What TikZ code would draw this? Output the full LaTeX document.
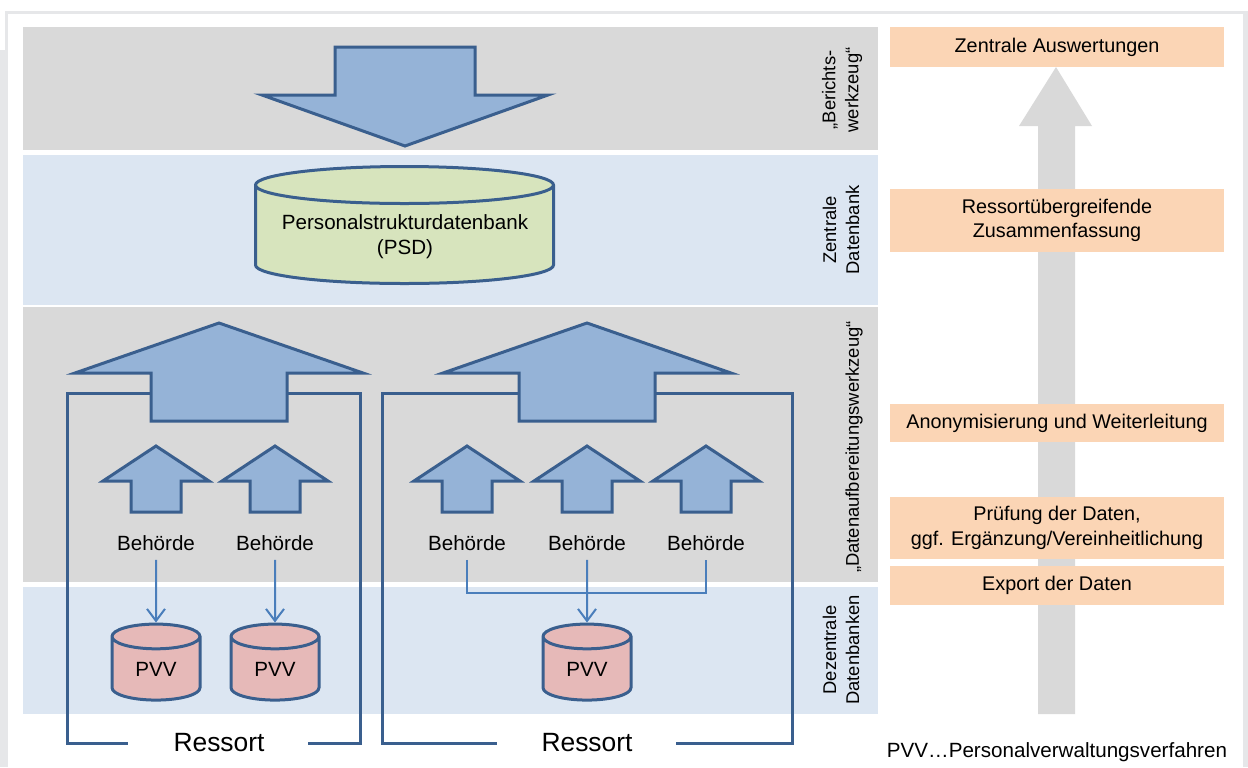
\documentclass[tikz,border=0pt]{standalone}
\usepackage{fontspec}
\setmainfont{Liberation Sans}
\usetikzlibrary{shapes.geometric,arrows.meta}

\definecolor{framegray}{HTML}{E6E7E9}
\definecolor{bandgray}{HTML}{D9D9D9}
\definecolor{bandblue}{HTML}{DCE6F2}
\definecolor{stepfill}{HTML}{FBD5B5}
\definecolor{arrowfill}{HTML}{95B3D7}
\definecolor{arrowline}{HTML}{3A5F8E}
\definecolor{linkblue}{HTML}{4A7EBB}
\definecolor{psdfill}{HTML}{D7E4BD}
\definecolor{pvvfill}{HTML}{E6B9B8}

\begin{document}
\begin{tikzpicture}[
    x=0.5pt, y=-0.5pt,
    font=\fontsize{10.3}{12.4}\selectfont,
    stepbox/.style={
        fill=stepfill,
        minimum width=167pt,
        align=center,
        inner sep=0pt,
        font=\fontsize{9.9}{12.2}\selectfont
    },
    layer/.style={
        rotate=90,
        align=center,
        font=\fontsize{9.2}{11.5}\selectfont
    },
    blockarrow/.style={
        fill=arrowfill,
        draw=arrowline,
        line width=1.5pt
    },
    bracket/.style={
        draw=arrowline,
        line width=1.5pt
    },
    link/.style={
        draw=linkblue,
        line width=1pt
    },
    db/.style={
        cylinder,
        shape border rotate=90,
        draw=arrowline,
        line width=1.5pt,
        inner sep=0pt,
        align=center
    },
    office/.style={inner sep=4.5pt}
]
\useasboundingbox (0,0) rectangle (1248,767);

\fill[framegray] (5,11) rectangle (1248,14);
\fill[framegray] (5,11) rectangle (8,50);
\fill[framegray] (0,50) rectangle (8,767);
\fill[framegray] (1243,11) rectangle (1248,767);

\fill[bandgray] (23,27) rectangle (878,150);
\fill[bandblue] (23,155) rectangle (878,305);
\fill[bandgray] (23,307) rectangle (878,582);
\fill[bandblue] (23,587) rectangle (878,714);

\node[layer] (lberichte) at (842,90) {„Berichts-\\werkzeug“};
\node[layer] (lzentral) at (841,230) {Zentrale\\Datenbank};
\node[layer] (laufber) at (854,447) {„Datenaufbereitungswerkzeug“};
\node[layer] (ldezentral) at (841,650) {Dezentrale\\Datenbanken};

\fill[bandgray] (1038,714) -- (1038,126) -- (1019,126) -- (1056,67)
    -- (1092,126) -- (1075,126) -- (1075,714) -- cycle;

\node[stepbox, minimum height=20pt] (auswertung) at (1057,47) {Zentrale Auswertungen};
\node[stepbox, minimum height=31.5pt] (zusammen) at (1057,220.5)
    {Ressortübergreifende\\Zusammenfassung};
\node[stepbox, minimum height=19pt] (anonym) at (1057,423)
    {Anonymisierung und Weiterleitung};
\node[stepbox, minimum height=31pt] (pruefung) at (1057,528)
    {Prüfung der Daten,\\ggf. Ergänzung/Vereinheitlichung};
\node[stepbox, minimum height=19.5pt] (export) at (1057,585.5) {Export der Daten};

\node (legende) at (1057,752) {PVV…Personalverwaltungsverfahren};

\draw[blockarrow] (335,47) -- (475,47) -- (475,95) -- (548,95) -- (405,146)
    -- (262,95) -- (335,95) -- cycle;

\draw[bracket, fill=psdfill] (255.5,185) -- (255.5,265)
    arc[start angle=180, end angle=360, x radius=74.5pt, y radius=9.25pt]
    -- (553.5,185)
    arc[start angle=0, end angle=180, x radius=74.5pt, y radius=9.25pt] -- cycle;
\draw[bracket] (255.5,185)
    arc[start angle=180, end angle=360, x radius=74.5pt, y radius=9.25pt];
\node[align=center] (psd) at (405,237) {Personalstrukturdatenbank\\(PSD)};

\draw[bracket] (152,393) -- (67,393) -- (67,743) -- (128,743);
\draw[bracket] (308,743) -- (360,743) -- (360,393) -- (287,393);
\draw[bracket] (518,393) -- (382,393) -- (382,743) -- (497,743);
\draw[bracket] (676,743) -- (792,743) -- (792,393) -- (655,393);

\node[font=\fontsize{13.2}{15}\selectfont] (ressort1) at (219,743) {Ressort};
\node[font=\fontsize{13.2}{15}\selectfont] (ressort2) at (587,743) {Ressort};

\foreach \c in {219,587}
    \draw[blockarrow] (\c,323) -- (\c+144,373) -- (\c+68,373) -- (\c+68,421)
        -- (\c-68,421) -- (\c-68,373) -- (\c-144,373) -- cycle;

\foreach \c in {156,275,467,587,706}
    \draw[blockarrow] (\c,446) -- (\c+53,481) -- (\c+25,481) -- (\c+25,512)
        -- (\c-25,512) -- (\c-25,481) -- (\c-53,481) -- cycle;

\node[office] (beh1) at (156,543) {Behörde};
\node[office] (beh2) at (275,543) {Behörde};
\node[office] (beh3) at (467,543) {Behörde};
\node[office] (beh4) at (587,543) {Behörde};
\node[office] (beh5) at (706,543) {Behörde};

\node[db, fill=pvvfill, minimum width=44pt, minimum height=38pt, aspect=0.6]
    (pvv1) at (156,669) {PVV};
\node[db, fill=pvvfill, minimum width=44pt, minimum height=38pt, aspect=0.6]
    (pvv2) at (275,669) {PVV};
\node[db, fill=pvvfill, minimum width=44pt, minimum height=38pt, aspect=0.6]
    (pvv3) at (587,669) {PVV};

\coordinate (bus) at (587,593);
\draw[link, -{Straight Barb[length=6pt,width=9pt]}] (beh1) -- (pvv1);
\draw[link, -{Straight Barb[length=6pt,width=9pt]}] (beh2) -- (pvv2);
\draw[link] (beh3) |- (bus) -| (beh5);
\draw[link, -{Straight Barb[length=6pt,width=9pt]}] (beh4) -- (pvv3);

\end{tikzpicture}
\end{document}
